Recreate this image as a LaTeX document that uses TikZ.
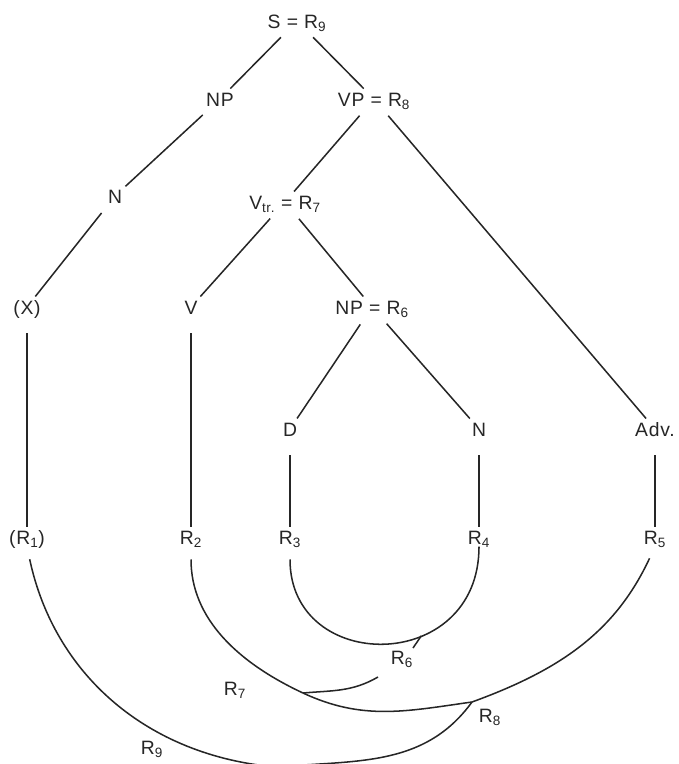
\documentclass[tikz,border=0pt]{standalone}
\usepackage{fontspec}
\setmainfont{Liberation Sans}[LetterSpace=4]

\newcommand{\Rn}[1]{R\textsubscript{#1}}

\tikzset{
    cat/.style={inner sep=2pt, text height=12pt, text depth=0pt, text=black!85,
                font=\fontsize{16.5}{19}\selectfont},
    branch/.style={draw=black!85, line width=1.3pt, shorten <=8pt, shorten >=1pt},
    stem/.style={draw=black!85, line width=1.3pt, shorten <=14pt},
    bow/.style={draw=black!85, line width=1.3pt, shorten <=11pt}
}

\begin{document}
\begin{tikzpicture}[x=0.03cm, y=0.03cm]
\useasboundingbox (0,0) rectangle (678,-764);

% ===== Tree =====
\node[cat] (s)   at (297,-21)  {S = \Rn{9}};
\node[cat] (np)  at (220,-99)  {NP};
\node[cat] (vp)  at (374,-99)  {VP = \Rn{8}};
\node[cat] (n1)  at (115,-196) {N};
\node[cat] (vtr) at (285,-202) {V\textsubscript{tr.} = \Rn{7}};
\node[cat] (x)   at (27,-307)  {(X)};
\node[cat] (v)   at (191,-307) {V};
\node[cat] (np6) at (372,-307) {NP = \Rn{6}};
\node[cat] (d)   at (290,-429) {D};
\node[cat] (n2)  at (479,-429) {N};
\node[cat] (adv) at (655,-429) {Adv.};

\draw[branch] (s) -- (np);
\draw[branch] (s) -- (vp);
\draw[branch] (np) -- (n1);
\draw[branch] (n1) -- (x);
\draw[branch] (vp) -- (vtr);
\draw[branch] (vp) -- (adv);
\draw[branch] (vtr) -- (v);
\draw[branch] (vtr) -- (np6);
\draw[branch] (np6) -- (d);
\draw[branch] (np6) -- (n2);

% ===== Readings =====
\node[cat] (r1) at (27,-537)  {(\Rn{1})};
\node[cat] (r2) at (191,-537) {\Rn{2}};
\node[cat] (r3) at (290,-537) {\Rn{3}};
\node[cat] (r4) at (479,-537) {\Rn{4}};
\node[cat] (r5) at (655,-537) {\Rn{5}};

\draw[stem] (x) -- (r1);
\draw[stem] (v) -- (r2);
\draw[stem] (d) -- (r3);
\draw[stem] (n2) -- (r4);
\draw[stem] (adv) -- (r5);

% ===== Combinations =====
\node[cat] (r6) at (402,-657) {\Rn{6}};
\node[cat] (r7) at (235,-688) {\Rn{7}};
\node[cat] (r8) at (490,-715) {\Rn{8}};
\node[cat] (r9) at (152,-747) {\Rn{9}};

\coordinate (j7)  at (303,-693);
\coordinate (j8)  at (472,-702);
\coordinate (j9)  at (276,-767);
\coordinate (c6)  at (378,-677);
\coordinate (t6e) at (413,-648);

\draw[bow] (r3.south) .. controls +(0,-128) and +(0,-128) .. (r4.south)
    coordinate[pos=0.633] (t6);
\draw[bow, shorten <=0pt] (t6) -- (t6e);
\draw[bow, shorten <=0pt] (c6) to[out=-150, in=5] (j7);
\draw[bow] (r2.south) to[out=-90, in=155] (j7) to[out=-25, in=188] (j8);
\draw[bow] (r5.south) to[out=-115, in=20] (j8);
\draw[bow, shorten <=0pt] (j8) to[out=-126, in=5] (j9);
\draw[bow] (r1.south) to[out=-78, in=175] (j9);

\end{tikzpicture}
\end{document}
